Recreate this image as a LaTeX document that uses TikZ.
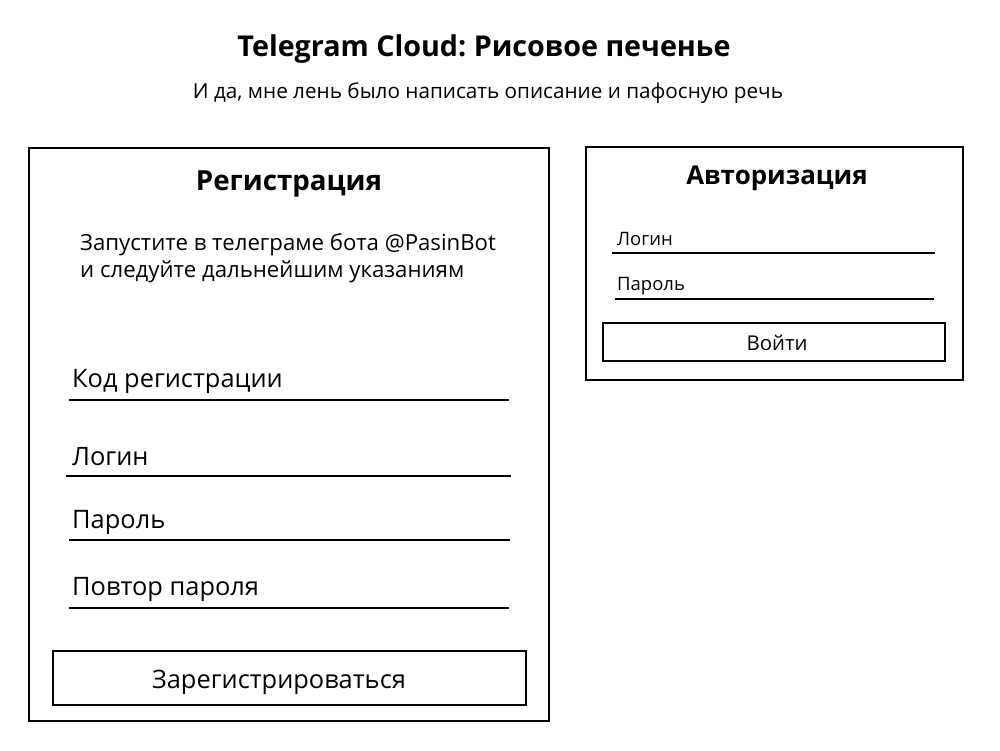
\documentclass[tikz,border=0pt]{standalone}
\usepackage{fontspec}
\setmainfont{Open Sans}
\frenchspacing

\begin{document}
\begin{tikzpicture}[
        x=1pt, y=-1pt,
        heading/.style={font=\fontsize{28.7}{32}\selectfont\bfseries, inner sep=0pt, anchor=base},
        label/.style={font=\fontsize{25.4}{30}\selectfont, inner sep=0pt, anchor=base west},
        smalllabel/.style={font=\fontsize{18.5}{22}\selectfont, inner sep=0pt, anchor=base west},
        underline/.style={line width=1.6pt},
        button/.style={draw, line width=1.2pt, inner sep=0pt},
    ]
        \useasboundingbox (0,0) rectangle (1000,750);

        \node[heading] (title) at (484,56) {Telegram Cloud: Рисовое печенье};
        \node[font=\fontsize{20.7}{24}\selectfont, inner sep=0pt, anchor=base] (subtitle) at (488,98) {И да, мне лень было написать описание и пафосную речь};

        % registration form
        \draw[line width=2pt] (29,148) rectangle (549,721);
        \node[heading, font=\fontsize{27.7}{32}\selectfont\bfseries] (regtitle) at (289,190) {Регистрация};
        \node[font=\fontsize{22.2}{27}\selectfont, inner sep=0pt, anchor=base west, align=left] (hint) at (80,277) {Запустите в телеграме бота @PasinBot\\и следуйте дальнейшим указаниям};

        \node[label] (code) at (72,387) {Код регистрации};
        \draw[underline] (69,400) -- (509,400);
        \node[label] (reglogin) at (72,465) {Логин};
        \draw[underline] (66,476) -- (511,476);
        \node[label] (regpass) at (72,528) {Пароль};
        \draw[underline] (69,540) -- (510,540);
        \node[label] (regrepeat) at (72,595) {Повтор пароля};
        \draw[underline] (69,608) -- (509,608);

        \draw[button] (53,651) rectangle (526,705);
        \node[label, anchor=base] (register) at (279,688) {Зарегистрироваться};

        % login form
        \draw[line width=1.2pt] (586,147) rectangle (963,380);
        \node[heading, font=\fontsize{25.9}{30}\selectfont\bfseries] (authtitle) at (777,184) {Авторизация};
        \node[smalllabel] (login) at (617,245) {Логин};
        \draw[underline, line width=1.4pt] (612,253) -- (935,253);
        \node[smalllabel] (pass) at (617,290) {Пароль};
        \draw[underline, line width=1.4pt] (615,299) -- (934,299);

        \draw[button] (603,323) rectangle (945,361);
        \node[smalllabel, font=\fontsize{20.4}{24}\selectfont, anchor=base] (enter) at (777,350) {Войти};
    \end{tikzpicture}
\end{document}
